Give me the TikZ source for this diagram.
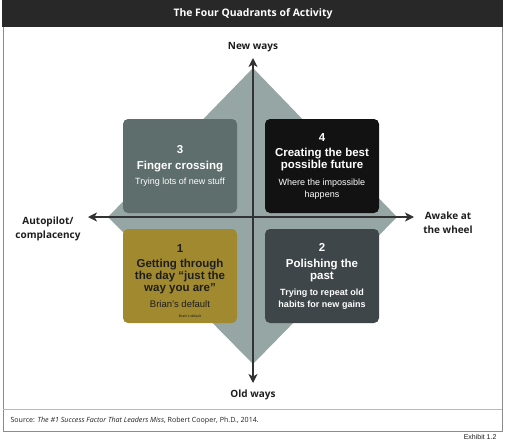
\documentclass[tikz,border=0pt]{standalone}
\usepackage{fontspec}
\setmainfont{Liberation Sans}
\newfontfamily\labelfont{Open Sans}
\usetikzlibrary{positioning,arrows.meta}
\definecolor{diamondgray}{RGB}{149,166,164}
\definecolor{quadthree}{RGB}{94,110,108}
\definecolor{quadfour}{RGB}{18,18,18}
\definecolor{quadone}{RGB}{160,137,46}
\definecolor{quadtwo}{RGB}{62,70,73}
\definecolor{axisgray}{RGB}{50,50,50}
\definecolor{framegray}{RGB}{140,140,140}
\definecolor{barblack}{RGB}{40,40,40}
\definecolor{darktext}{RGB}{30,30,30}
\newcommand{\subfont}[1]{\fontsize{#1}{12}\selectfont}

\begin{document}
\begin{tikzpicture}[
      x=1pt, y=-1pt,
      quad/.style={rounded corners=5pt, minimum width=114pt, minimum height=94pt,
                   inner sep=0pt, align=center, text=white,
                   font=\fontsize{11.5}{12}\selectfont\bfseries},
      axis/.style={draw=axisgray, line width=1.2pt,
                   {Stealth[length=9pt,width=9pt,inset=2.5pt]}-{Stealth[length=9pt,width=9pt,inset=2.5pt]}},
      axlabel/.style={align=center, text=darktext,
                      font=\labelfont\bfseries\fontsize{10}{14}\selectfont},
    ]
    \useasboundingbox (0,0) rectangle (506,442);
    % frame and title bar
    \draw[framegray, line width=0.8pt] (3,0) rectangle (502,431);
    \fill[barblack] (2,0) rectangle (503,27);
    \draw[framegray!60, line width=0.6pt] (3,409) -- (502,409);
    \node[text=white, font=\labelfont\bfseries\fontsize{10.4}{12}\selectfont] (title) at (253,14)
      {The Four Quadrants of Activity};

    % diamond behind the quadrants
    \fill[diamondgray] (253,68) -- (397,217) -- (253,364) -- (108,217) -- cycle;

    % quadrants
    \node[quad, fill=quadthree] (q3) at (180,166)
      {3\\[3.5pt] Finger crossing\\[3pt]
       \mdseries\subfont{9}Trying lots of new stuff};
    \node[quad, fill=quadfour] (q4) at (322,166)
      {4\\[3pt] Creating the best\\ possible future\\[5pt]
       \mdseries\subfont{9}Where the impossible\\ \mdseries\subfont{9}happens};
    \node[quad, fill=quadone, text=darktext] (q1) at (180,276)
      {1\\[3pt] Getting through\\ the day “just the\\ way you are”\\[4pt]
       \mdseries\subfont{9.5}Brian's default};
    \node[quad, fill=quadtwo] (q2) at (322,276)
      {2\\[4pt] Polishing the\\ past\\[4pt]
       \subfont{9}Trying to repeat old\\ \subfont{9}habits for new gains};
    \node[text=darktext, font=\fontsize{3.5}{4}\selectfont, inner sep=0pt] (q1note) at (190,316)
      {Brain's default};

    % axes
    \coordinate (up)    at (253,58);
    \coordinate (down)  at (253,383);
    \coordinate (left)  at (88,217);
    \coordinate (right) at (414,217);
    \draw[axis] (down) -- (up);
    \draw[axis] (left) -- (right);

    \node[axlabel] (newways) at (253,47)  {New ways};
    \node[axlabel] (oldways) at (253,395) {Old ways};
    \node[axlabel] (autopilot) at (48,229) {Autopilot/\\complacency};
    \node[axlabel] (awake) at (448,223) {Awake at\\the wheel};

    % source and exhibit number
    \node[anchor=west, text=darktext, font=\labelfont\fontsize{7.1}{8}\selectfont] (source) at (7,421)
      {Source: \textit{The \#1 Success Factor That Leaders Miss}, Robert Cooper, Ph.D., 2014.};
    \node[anchor=east, text=darktext, font=\fontsize{7}{8}\selectfont] (exhibit) at (500,437)
      {Exhibit 1.2};
  \end{tikzpicture}
\end{document}
